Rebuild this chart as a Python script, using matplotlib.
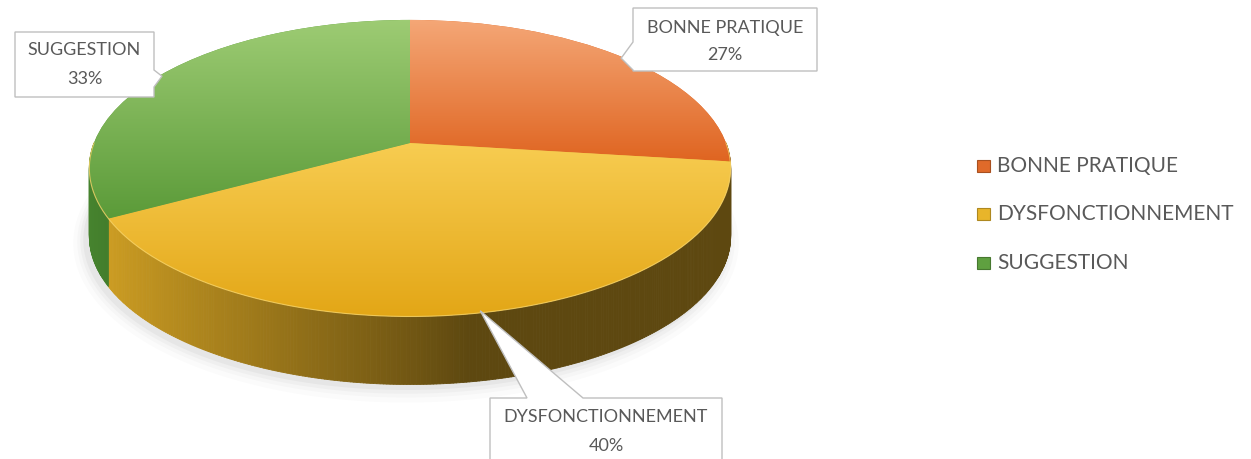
import numpy as np
import matplotlib
matplotlib.use("Agg")
import matplotlib.pyplot as plt
import matplotlib.transforms as mtransforms
from matplotlib.colors import LinearSegmentedColormap, to_rgb
from matplotlib.patches import Polygon, Rectangle
from matplotlib.collections import PolyCollection

# ---------------- data ----------------
categories = ["BONNE PRATIQUE", "DYSFONCTIONNEMENT", "SUGGESTION"]
shares = [27, 40, 33]
pct_labels = ["27%", "40%", "33%"]

# ---------------- styles ----------------
top_light = ["#F5A878", "#F8CD52", "#9ECC74"]
top_dark = ["#DF6420", "#E2A514", "#5A9A38"]
side_base = ["#E0601A", "#F0B828", "#4F9434"]
legend_col = ["#E06A2A", "#E8B52A", "#5FA040"]
text_col = "#595959"
FONT = "Lato"

W, H = 1251, 459
fig = plt.figure(figsize=(W / 100, H / 100), dpi=100)
ax = fig.add_axes([0, 0, 1, 1])

# perspective mapping of the pie plane onto the page (pixel-like data units)
CX, CY, RX, RY, K, DEPTH = 410.0, 143.0, 316.0, 144.0, 0.17, 68.0


class Persp(mtransforms.Transform):
    input_dims = 2
    output_dims = 2
    is_separable = False
    has_inverse = False

    def transform_non_affine(self, values):
        values = np.asarray(values, dtype=float)
        u, v = values[:, 0], values[:, 1]
        den = 1.0 + K * v
        return np.column_stack([CX + RX * u / den, CY - RY * v / den])


persp = Persp()


def proj(theta_deg, r=1.0, dy=0.0):
    t = np.radians(theta_deg)
    pts = persp.transform_non_affine(np.column_stack([r * np.cos(t), r * np.sin(t)]))
    pts[:, 1] += dy
    return pts


wedges, _ = ax.pie(shares, startangle=90, counterclock=False, radius=1,
                   center=(0, 0), wedgeprops=dict(linewidth=0))

# slice angles (pie convention: start at 90, clockwise)
fr = np.array(shares, float) / np.sum(shares)
starts = 90 - 360 * np.concatenate([[0], np.cumsum(fr)[:-1]])
ends = starts - 360 * fr

# soft shadow under the pie
base = proj(np.linspace(0, 360, 361), dy=DEPTH)
for grow, a in [(12, 0.03), (8, 0.04), (5, 0.05), (2, 0.08)]:
    sh = base.copy()
    sh[:, 0] = CX + (sh[:, 0] - CX) * (1 + grow / 320) - 4
    sh[:, 1] = (CY + DEPTH * 0.6) + (sh[:, 1] - (CY + DEPTH * 0.6)) * (1 + grow / 160) + 3
    ax.add_patch(Polygon(sh, closed=True, facecolor="#808080", edgecolor="none",
                         alpha=a, zorder=0))

# side wall (front half)
quads, cols = [], []
for s, e, c in zip(starts, ends, side_base):
    a_lo, a_hi = min(s, e), max(s, e)
    rng = []
    for off in (0, 360, -360):
        l2, h2 = max(a_lo + off, -180), min(a_hi + off, 0)
        if h2 > l2:
            rng.append((l2, h2))
    crgb = np.array(to_rgb(c))
    for l2, h2 in rng:
        th = np.linspace(l2, h2, max(int((h2 - l2) * 2), 2))
        top = proj(th)
        bot = proj(th, dy=DEPTH)
        for j in range(len(th) - 1):
            quads.append([top[j], top[j + 1], bot[j + 1], bot[j]])
            u = np.cos(np.radians(0.5 * (th[j] + th[j + 1])))
            f = 0.39 + 0.51 * np.clip((0.15 - u) / 1.15, 0, 1) ** 0.9
            cols.append(np.clip(crgb * f, 0, 1))
ax.add_collection(PolyCollection(quads, facecolors=cols, edgecolors=cols,
                                 linewidths=0.6, zorder=1))

# top faces with vertical gradients
for w, c0, c1 in zip(wedges, top_light, top_dark):
    w.set_transform(persp + ax.transData)
    w.set_facecolor(c1)
    w.set_zorder(2)
    verts = persp.transform_non_affine(w.get_path().vertices)
    x0, x1 = verts[:, 0].min() - 2, verts[:, 0].max() + 2
    y0, y1 = verts[:, 1].min() - 2, verts[:, 1].max() + 2
    cmap = LinearSegmentedColormap.from_list("g", [c0, c1])
    im = ax.imshow(np.linspace(0, 1, 256).reshape(-1, 1), cmap=cmap,
                   extent=(x0, x1, y1, y0), origin="upper", aspect="auto",
                   interpolation="bilinear", zorder=3)
    im.set_clip_path(w)

# bright rim line on the front edge
rim = proj(np.linspace(-180, 0, 300))
ax.plot(rim[:, 0], rim[:, 1], color="#F7D46A", lw=0.8, alpha=0.8, zorder=4)

# ---------------- callouts ----------------
mids = (starts + ends) / 2
boxes = {
    0: dict(box=(633, 8, 817, 71), side="left", base=(42, 70), ty=(28, 55)),
    1: dict(box=(490, 398, 722, 475), side="top", base=(527, 583), ty=(417, 446)),
    2: dict(box=(15, 32, 154, 97), side="right", base=(70, 87), ty=(50, 79)),
}
for i, spec in boxes.items():
    tip = proj(np.array([mids[i]]), r=0.99)[0]
    x0, y0, x1, y1 = spec["box"]
    b0, b1 = spec["base"]
    if spec["side"] == "left":
        pts = [(x0, y0), (x1, y0), (x1, y1), (x0, y1), (x0, b1), tuple(tip), (x0, b0)]
    elif spec["side"] == "right":
        pts = [(x0, y0), (x1, y0), (x1, b0), tuple(tip), (x1, b1), (x1, y1), (x0, y1)]
    else:
        pts = [(x0, y0), (b0, y0), tuple(tip), (b1, y0), (x1, y0), (x1, y1), (x0, y1)]
    ax.add_patch(Polygon(pts, closed=True, facecolor="white", edgecolor="#BFBFBF",
                         lw=1.0, zorder=6, joinstyle="miter"))
    cx = (x0 + x1) / 2
    ax.text(cx, spec["ty"][0], categories[i], ha="center", va="center",
            fontsize=13, color=text_col, family=FONT, zorder=7)
    ax.text(cx, spec["ty"][1], pct_labels[i], ha="center", va="center",
            fontsize=13, color=text_col, family=FONT, zorder=7)

# ---------------- legend ----------------
leg_y = [166, 214, 263]
for lab, col, y in zip(categories, legend_col, leg_y):
    ax.add_patch(Rectangle((977, y - 6), 13, 12, facecolor=col,
                           edgecolor=np.clip(np.array(to_rgb(col)) * 0.75, 0, 1),
                           lw=0.8, zorder=6))
    ax.text(997, y, lab, ha="left", va="center", fontsize=15,
            color=text_col, family=FONT, zorder=7)

ax.set_xlim(0, W)
ax.set_ylim(H, 0)
ax.set_aspect("auto")
ax.axis("off")
fig.savefig("out.png", dpi=100, facecolor="white")
